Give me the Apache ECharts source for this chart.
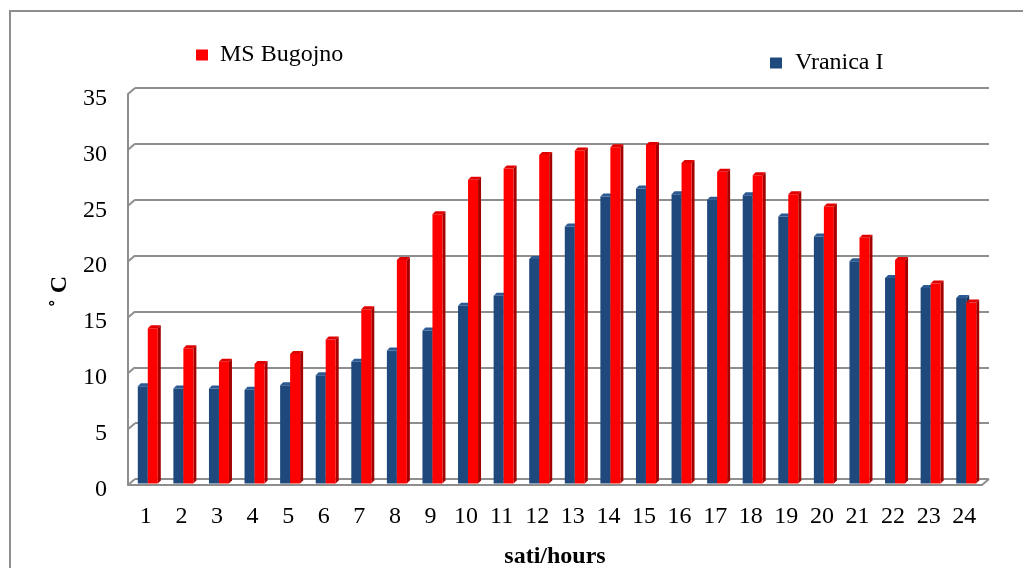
<!DOCTYPE html>
<html>
<head>
<meta charset="utf-8">
<script src="https://cdn.jsdelivr.net/npm/echarts@6/dist/echarts.min.js"></script>
<style>
  html, body { margin: 0; padding: 0; background: #fff; }
  #chart { width: 1023px; height: 568px; }
</style>
</head>
<body>
<div id="chart"></div>
<script>
// Hourly mean air temperature (°C)
const hours = ['1','2','3','4','5','6','7','8','9','10','11','12','13','14','15','16','17','18','19','20','21','22','23','24'];
const vranica = [8.7, 8.5, 8.5, 8.4, 8.8, 9.7, 10.9, 11.9, 13.7, 15.9, 16.8, 20.1, 23.0, 25.7, 26.4, 25.9, 25.4, 25.8, 23.9, 22.1, 19.9, 18.4, 17.5, 16.6];
const bugojno = [13.9, 12.1, 10.9, 10.7, 11.6, 12.9, 15.6, 20.0, 24.1, 27.2, 28.2, 29.4, 29.8, 30.1, 30.3, 28.7, 27.9, 27.6, 25.9, 24.8, 22.0, 20.0, 17.9, 16.2];
const yTicks = [0, 5, 10, 15, 20, 25, 30, 35];

const SERIF = '"Liberation Serif", "Times New Roman", serif';
const GRID_COLOR = '#8e8e8e';

// pseudo-3D geometry (pixels)
const WALL_DX = 7, WALL_DY = 6;   // depth of the side wall / floor
const BAR_W = 10, BAR_D = 3;      // bar face width and bar depth
const BAR_DX = 2, BAR_DY = -1.5;  // bar plane relative to the front plane

const colors = {
  blue: { front: '#1f497d', top: '#2d5a92', side: '#163659' },
  red:  { front: '#ff0000', top: '#e00000', side: '#a50000' }
};

function barRenderer(leftSide, c) {
  return function (params, api) {
    const i = api.value(0), v = api.value(1);
    const top = api.coord([i, v]);
    const base = api.coord([i, 0]);
    const x0 = top[0] + BAR_DX + (leftSide ? -BAR_W : 0);
    const x1 = x0 + BAR_W;
    const yt = top[1] + BAR_DY, yb = base[1] + BAR_DY;
    return {
      type: 'group',
      children: [
        { type: 'polygon', shape: { points: [[x1, yt], [x1 + BAR_D, yt - BAR_D], [x1 + BAR_D, yb - BAR_D], [x1, yb]] }, style: { fill: c.side } },
        { type: 'rect', shape: { x: x0, y: yt, width: BAR_W, height: yb - yt }, style: { fill: c.front } },
        { type: 'polygon', shape: { points: [[x0, yt], [x1, yt], [x1 + BAR_D, yt - BAR_D], [x0 + BAR_D, yt - BAR_D]] }, style: { fill: c.top } }
      ]
    };
  };
}

// side wall edges: short diagonals joining the front axis to each back gridline
function wallRenderer(params, api) {
  const v = api.value(0);
  const cs = params.coordSys;
  const p = api.coord([0, v]);
  const y = p[1];
  const xl = cs.x;
  const children = [
    { type: 'line', shape: { x1: xl - WALL_DX, y1: y + WALL_DY, x2: xl, y2: y }, style: { stroke: GRID_COLOR, lineWidth: 2 } }
  ];
  if (v === 0) {
    const xr = cs.x + cs.width;
    children.push({ type: 'line', shape: { x1: xr - WALL_DX, y1: y + WALL_DY, x2: xr, y2: y }, style: { stroke: GRID_COLOR, lineWidth: 2 } });
  }
  return { type: 'group', children };
}

const chart = echarts.init(document.getElementById('chart'), null, { renderer: 'canvas' });

const option = {
  animation: false,
  backgroundColor: '#fff',
  textStyle: { fontFamily: SERIF, color: '#000' },
  graphic: [
    { type: 'rect', shape: { x: 10, y: 11, width: 1040, height: 600 }, style: { fill: 'none', stroke: GRID_COLOR, lineWidth: 2 }, z: 0, silent: true }
  ],
  legend: [
    {
      data: ['MS Bugojno'], left: 196, top: 43, padding: 0, icon: 'rect', itemWidth: 12, itemHeight: 11,
      textStyle: { fontFamily: SERIF, fontSize: 24, color: '#000', padding: [0, 0, 0, 7] }
    },
    {
      data: ['Vranica I'], left: 770, top: 51, padding: 0, icon: 'rect', itemWidth: 12, itemHeight: 11,
      textStyle: { fontFamily: SERIF, fontSize: 24, color: '#000', padding: [0, 0, 0, 8] }
    }
  ],
  grid: [
    { left: 135, top: 88, width: 854, height: 391, outerBoundsMode: 'none', containLabel: false },   // back wall
    { left: 128, top: 94, width: 854, height: 391, outerBoundsMode: 'none', containLabel: false }    // front plane
  ],
  xAxis: [
    { type: 'category', gridIndex: 0, data: hours, axisLine: { show: false }, axisTick: { show: false }, axisLabel: { show: false } },
    {
      type: 'category', gridIndex: 1, data: hours,
      axisLine: { show: true, lineStyle: { color: GRID_COLOR, width: 2 } },
      axisTick: { show: false },
      axisLabel: { fontFamily: SERIF, fontSize: 24, color: '#000', margin: 20 },
      name: 'sati/hours', nameLocation: 'middle', nameGap: 60,
      nameTextStyle: { fontFamily: SERIF, fontSize: 24, fontWeight: 'bold', color: '#000' }
    }
  ],
  yAxis: [
    {
      type: 'value', gridIndex: 0, min: 0, max: 35, interval: 5,
      axisLine: { show: false }, axisTick: { show: false }, axisLabel: { show: false },
      splitLine: { show: true, lineStyle: { color: GRID_COLOR, width: 2 } }
    },
    {
      type: 'value', gridIndex: 1, min: 0, max: 35, interval: 5,
      axisLine: { show: true, lineStyle: { color: GRID_COLOR, width: 2 } },
      axisTick: { show: false },
      splitLine: { show: false },
      axisLabel: { fontFamily: SERIF, fontSize: 24, color: '#000', margin: 21, verticalAlign: 'top', lineHeight: 9 },
      name: '˚ C', nameLocation: 'middle', nameRotate: 90, nameGap: 56,
      nameTextStyle: { fontFamily: SERIF, fontSize: 24, fontWeight: 'bold', color: '#000', padding: [0, 4, 0, 0] }
    }
  ],
  series: [
    {
      type: 'custom', name: 'wall', xAxisIndex: 0, yAxisIndex: 0,
      data: yTicks.map(v => [v]), encode: { y: 0 },
      renderItem: wallRenderer, silent: true
    },
    {
      type: 'custom', name: 'Vranica I', xAxisIndex: 1, yAxisIndex: 1,
      itemStyle: { color: colors.blue.front },
      data: vranica.map((v, i) => [i, v]),
      renderItem: barRenderer(true, colors.blue)
    },
    {
      type: 'custom', name: 'MS Bugojno', xAxisIndex: 1, yAxisIndex: 1,
      itemStyle: { color: colors.red.front },
      data: bugojno.map((v, i) => [i, v]),
      renderItem: barRenderer(false, colors.red)
    }
  ]
};

chart.setOption(option);
</script>
</body>
</html>
